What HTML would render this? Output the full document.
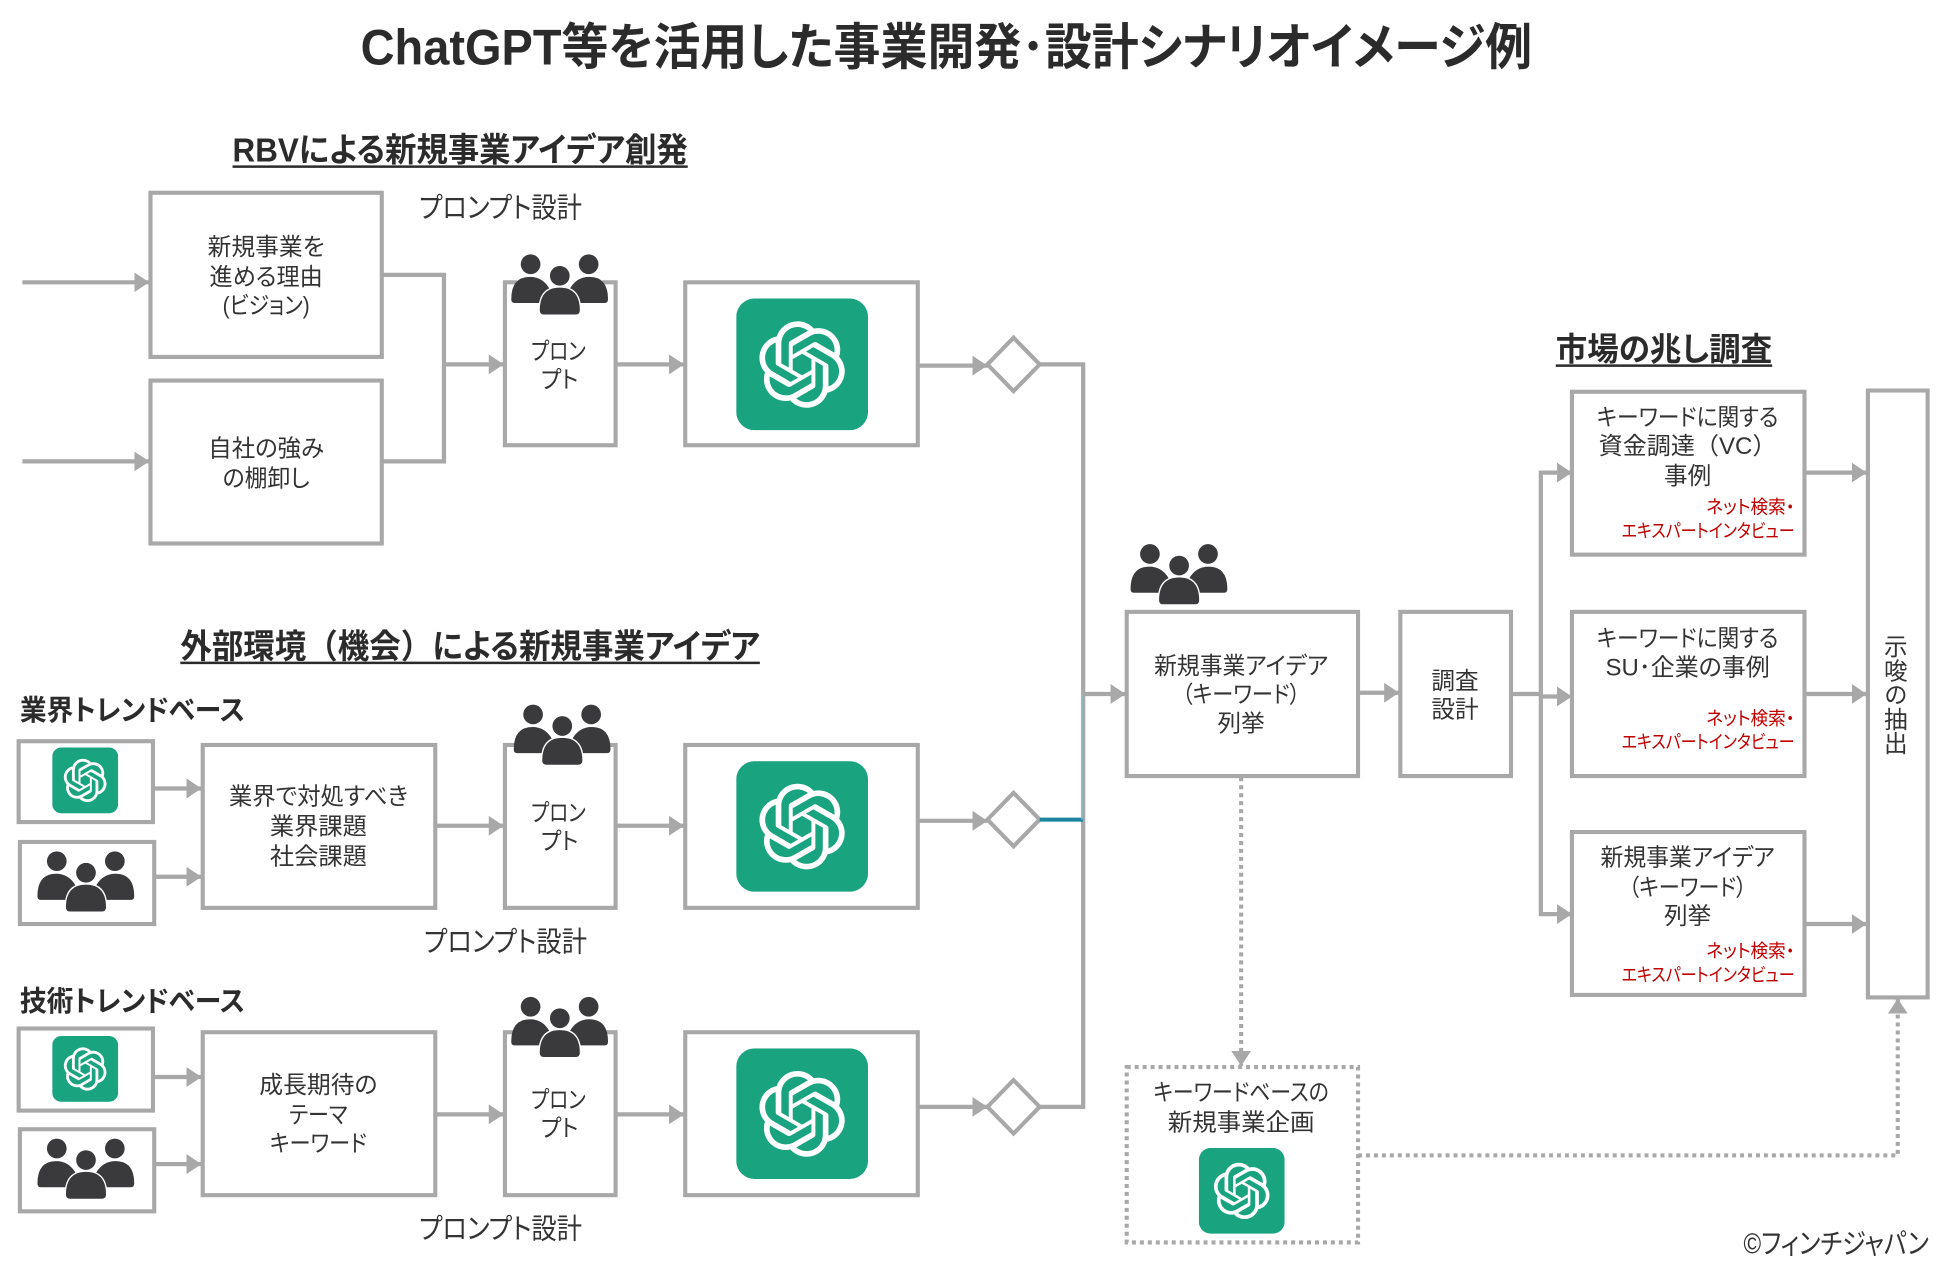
<!DOCTYPE html>
<html lang="ja"><head><meta charset="utf-8"><title>ChatGPT等を活用した事業開発・設計シナリオイメージ例</title>
<style>
html,body{margin:0;padding:0;background:#fff}
svg{display:block}
text{font-family:"Liberation Sans","Noto Sans CJK JP",sans-serif;fill:#333;font-size:19px;font-feature-settings:"palt"}
.c{text-anchor:middle}
.b{font-weight:700;fill:#2b2b2b}
.r{fill:#c00000;font-size:15px;text-anchor:end}
.box{fill:#fff;stroke:#a8a8a8;stroke-width:3.3}
.ln{fill:none;stroke:#a8a8a8;stroke-width:3.4}
.ar{fill:none;stroke:#a8a8a8;stroke-width:3.4;marker-end:url(#a)}
.dot{fill:none;stroke:#a8a8a8;stroke-width:3.3;stroke-dasharray:3.2 3.2}
.ul{stroke:#2b2b2b;stroke-width:2}
.fw{font-feature-settings:normal}
</style></head><body>
<svg xmlns="http://www.w3.org/2000/svg" width="1950" height="1276" viewBox="0 0 1568 1026" preserveAspectRatio="none">
<defs>
<marker id="a" markerUnits="userSpaceOnUse" markerWidth="13" markerHeight="16" refX="12" refY="8" orient="auto"><path d="M0 0L12 8L0 16Z" fill="#a8a8a8"/></marker>
<symbol id="logo" viewBox="0 0 100 100" preserveAspectRatio="none">
<rect width="100" height="100" rx="14" fill="#19a37f"/>
<g transform="translate(16.5 16.5) scale(1.64)"><path fill="#fff" d="M37.5324 16.8707C37.9808 15.5241 38.1363 14.0974 37.9886 12.6859C37.8409 11.2744 37.3934 9.91076 36.676 8.68622C35.6126 6.83404 33.9882 5.3676 32.0373 4.4985C30.0864 3.62941 27.9098 3.40259 25.8215 3.85078C24.8796 2.7893 23.7219 1.94125 22.4257 1.36341C21.1295 0.785575 19.7249 0.491269 18.3058 0.500197C16.1708 0.495044 14.0893 1.16803 12.3614 2.42214C10.6335 3.67624 9.34853 5.44666 8.6917 7.47815C7.30085 7.76286 5.98686 8.3414 4.8377 9.17505C3.68854 10.0087 2.73073 11.0782 2.02839 12.312C0.956464 14.1591 0.498905 16.2988 0.721698 18.4228C0.944492 20.5467 1.83612 22.5449 3.268 24.1293C2.81966 25.4759 2.66413 26.9026 2.81182 28.3141C2.95951 29.7256 3.40701 31.0892 4.12437 32.3138C5.18791 34.1659 6.8123 35.6322 8.76321 36.5013C10.7141 37.3704 12.8907 37.5973 14.9789 37.1492C15.9208 38.2107 17.0786 39.0587 18.3747 39.6366C19.6709 40.2144 21.0755 40.5087 22.4946 40.4998C24.6307 40.5054 26.7133 39.8321 28.4418 38.5772C30.1704 37.3223 31.4556 35.5506 32.1119 33.5179C33.5027 33.2332 34.8167 32.6547 35.9659 31.821C37.115 30.9874 38.0728 29.9178 38.7752 28.684C39.8458 26.8371 40.3023 24.6979 40.0789 22.5748C39.8556 20.4517 38.9639 18.4544 37.5324 16.8707ZM22.4978 37.8849C20.7443 37.8874 19.0459 37.2733 17.6994 36.1501C17.7601 36.117 17.8666 36.0586 17.936 36.0161L25.9004 31.4156C26.1003 31.3019 26.2663 31.137 26.3813 30.9378C26.4964 30.7386 26.5563 30.5124 26.5549 30.2825V19.0542L29.9213 20.998C29.9389 21.0068 29.9541 21.0198 29.9656 21.0359C29.977 21.052 29.9842 21.0707 29.9867 21.0902V30.3889C29.9842 32.375 29.1946 34.2791 27.7909 35.6841C26.3872 37.0892 24.4838 37.8806 22.4978 37.8849ZM6.39227 31.0064C5.51397 29.4888 5.19742 27.7107 5.49804 25.9832C5.55718 26.0187 5.66048 26.0818 5.73461 26.1244L13.699 30.7248C13.8975 30.8408 14.1233 30.902 14.3532 30.902C14.583 30.902 14.8088 30.8408 15.0073 30.7248L24.731 25.1103V28.9979C24.7321 29.0177 24.7283 29.0376 24.7199 29.0556C24.7115 29.0736 24.6988 29.0893 24.6829 29.1012L16.6317 33.7497C14.9096 34.7416 12.8643 35.0097 10.9447 34.4954C9.02506 33.9811 7.38785 32.7263 6.39227 31.0064ZM4.29707 13.6194C5.17156 12.0998 6.55279 10.9364 8.19885 10.3327C8.19885 10.4013 8.19491 10.5228 8.19491 10.6071V19.808C8.19351 20.0378 8.25334 20.2638 8.36823 20.4629C8.48312 20.6619 8.64893 20.8267 8.84863 20.9404L18.5723 26.5542L15.206 28.4979C15.1894 28.5089 15.1703 28.5155 15.1505 28.5173C15.1307 28.5191 15.1107 28.516 15.0924 28.5082L7.04046 23.8557C5.32135 22.8601 4.06716 21.2235 3.55289 19.3046C3.03862 17.3858 3.30624 15.3413 4.29707 13.6194ZM31.955 20.0556L22.2312 14.4411L25.5976 12.4981C25.6142 12.4872 25.6333 12.4805 25.6531 12.4787C25.6729 12.4769 25.6928 12.4801 25.7111 12.4879L33.7631 17.1364C34.9967 17.849 36.0017 18.8982 36.6606 20.1613C37.3194 21.4244 37.6047 22.849 37.4832 24.2684C37.3617 25.6878 36.8382 27.0432 35.9743 28.1759C35.1103 29.3086 33.9415 30.1717 32.6047 30.6641C32.6047 30.5947 32.6047 30.4733 32.6047 30.3889V21.188C32.6066 20.9586 32.5474 20.7328 32.4332 20.5338C32.319 20.3348 32.154 20.1698 31.955 20.0556ZM35.3055 15.0128C35.2464 14.9765 35.1431 14.9142 35.069 14.8717L27.1045 10.2712C26.906 10.1554 26.6803 10.0943 26.4504 10.0943C26.2206 10.0943 25.9948 10.1554 25.7963 10.2712L16.0726 15.8858V11.9982C16.0715 11.9783 16.0753 11.9585 16.0837 11.9405C16.0921 11.9225 16.1048 11.9068 16.1207 11.8949L24.1719 7.25025C25.4053 6.53903 26.8158 6.19376 28.2383 6.25482C29.6608 6.31589 31.0364 6.78077 32.2044 7.59508C33.3723 8.40939 34.2842 9.53945 34.8334 10.8531C35.3826 12.1667 35.5464 13.6095 35.3055 15.0128ZM14.2424 21.9419L10.8752 19.9981C10.8576 19.9893 10.8423 19.9763 10.8309 19.9602C10.8195 19.9441 10.8122 19.9254 10.8098 19.9058V10.6071C10.8107 9.18295 11.2173 7.78848 11.9819 6.58696C12.7466 5.38544 13.8377 4.42659 15.1275 3.82264C16.4173 3.21869 17.8524 2.99464 19.2649 3.1767C20.6775 3.35876 22.0089 3.93941 23.1034 4.85067C23.0427 4.88379 22.937 4.94215 22.8668 4.98473L14.9024 9.58517C14.7025 9.69878 14.5366 9.86356 14.4215 10.0626C14.3065 10.2616 14.2466 10.4877 14.2479 10.7175L14.2424 21.9419ZM16.071 17.9991L20.4018 15.4978L24.7325 17.9975V22.9985L20.4018 25.4983L16.071 22.9985V17.9991Z"/></g>
</symbol>
<symbol id="ppl" viewBox="-4 -4 293 187">
<g fill="#3a3a3c">
<circle cx="57" cy="29" r="29"/><circle cx="228" cy="29" r="29"/>
<path d="M0 132Q0 66 55 66Q92 66 112 100L112 143L10 143Q0 143 0 132Z"/>
<path d="M285 132Q285 66 230 66Q193 66 173 100L173 143L275 143Q285 143 285 132Z"/>
<circle cx="143" cy="63" r="33" fill="#fff"/><circle cx="143" cy="63" r="29"/>
<path d="M84 165Q84 98 143 98Q202 98 202 165Q202 177 190 177L96 177Q84 177 84 165Z" stroke="#fff" stroke-width="8" paint-order="stroke"/>
</g>
</symbol>
</defs>

<text x="761" y="52" class="c b" style="font-size:40px" textLength="942" lengthAdjust="spacingAndGlyphs">ChatGPT等を活用した事業開発･設計シナリオイメージ例</text>

<text x="370" y="130" class="c b" style="font-size:27px" textLength="366" lengthAdjust="spacingAndGlyphs">RBVによる新規事業アイデア創発</text>
<line class="ul" x1="187" y1="134" x2="553" y2="134"/>
<text x="402.500" y="175" class="c" style="font-size:23px" textLength="131" lengthAdjust="spacingAndGlyphs">プロンプト設計</text>

<!-- row 1 -->
<path class="ar" d="M18 227H120"/>
<path class="ar" d="M18 371H120"/>
<rect class="box" x="121" y="155" width="186" height="132"/>
<rect class="box" x="121" y="306" width="186" height="131"/>
<text x="214" y="205" class="c" textLength="94" lengthAdjust="spacingAndGlyphs">新規事業を</text><text x="214" y="229" class="c" textLength="91" lengthAdjust="spacingAndGlyphs">進める理由</text><text x="214" y="252" class="c" textLength="70" lengthAdjust="spacingAndGlyphs">(ビジョン)</text>
<text x="214" y="367" class="c" textLength="93" lengthAdjust="spacingAndGlyphs">自社の強み</text><text x="214" y="391" class="c" textLength="70" lengthAdjust="spacingAndGlyphs">の棚卸し</text>
<path class="ln" d="M307 221H357V371H307"/>
<path class="ar" d="M357 293H405"/>
<rect class="box" x="406" y="227" width="89" height="131"/>
<rect x="416" y="220" width="68" height="30" fill="#fff"/>
<use href="#ppl" x="410" y="203" width="80" height="52"/>
<text x="449" y="289" class="c" textLength="44" lengthAdjust="spacingAndGlyphs">プロン</text><text x="450" y="312" class="c" textLength="30" lengthAdjust="spacingAndGlyphs">プト</text>
<path class="ar" d="M495 293H550"/>
<rect class="box" x="551" y="227" width="187" height="131"/>
<use href="#logo" x="592" y="240" width="106" height="106"/>
<path class="ar" d="M738 294H794"/>
<path class="box" d="M815 271.500L836 293L815 314.500L794 293Z"/>
<path class="ln" d="M836 293H871V890H836"/>

<!-- row 2 -->
<text x="378" y="529" class="c b" style="font-size:27px" textLength="466" lengthAdjust="spacingAndGlyphs">外部環境<tspan class="fw">（機会）</tspan>による新規事業アイデア</text>
<line class="ul" x1="145" y1="533" x2="611" y2="533"/>
<text x="16" y="579" class="b" style="font-size:23px" textLength="181" lengthAdjust="spacingAndGlyphs">業界トレンドベース</text>
<rect class="box" x="15" y="596" width="108" height="65"/>
<use href="#logo" x="42" y="601" width="53" height="53"/>
<rect class="box" x="16" y="677" width="108" height="66"/>
<use href="#ppl" x="29" y="683" width="80" height="52"/>
<path class="ar" d="M123 634H162"/>
<path class="ar" d="M124 705H162"/>
<rect class="box" x="163" y="599" width="187" height="131"/>
<text x="256" y="647" class="c" textLength="144" lengthAdjust="spacingAndGlyphs">業界で対処すべき</text><text x="256" y="671" class="c" textLength="78" lengthAdjust="spacingAndGlyphs">業界課題</text><text x="256" y="695" class="c" textLength="78" lengthAdjust="spacingAndGlyphs">社会課題</text>
<path class="ar" d="M350 664H405"/>
<rect class="box" x="406" y="599" width="89" height="131"/>
<rect x="416" y="590" width="68" height="30" fill="#fff"/>
<use href="#ppl" x="412" y="565" width="80" height="52"/>
<text x="449" y="660" class="c" textLength="44" lengthAdjust="spacingAndGlyphs">プロン</text><text x="450" y="683" class="c" textLength="30" lengthAdjust="spacingAndGlyphs">プト</text>
<path class="ar" d="M495 664H550"/>
<rect class="box" x="551" y="599" width="187" height="131"/>
<use href="#logo" x="592" y="612" width="106" height="105"/>
<path class="ar" d="M738 660H794"/>
<path class="box" d="M815 637.500L836 659L815 680.500L794 659Z"/>
<line x1="836" y1="659" x2="871" y2="659" stroke="#1b84a0" stroke-width="3.200"/>
<line x1="870" y1="558" x2="870" y2="659" stroke="#8fbcc6" stroke-width="1.200"/>
<text x="406.500" y="765" class="c" style="font-size:23px" textLength="131" lengthAdjust="spacingAndGlyphs">プロンプト設計</text>

<!-- row 3 -->
<text x="16" y="813" class="b" style="font-size:23px" textLength="181" lengthAdjust="spacingAndGlyphs">技術トレンドベース</text>
<rect class="box" x="15" y="827" width="108" height="66"/>
<use href="#logo" x="42" y="833" width="53" height="53"/>
<rect class="box" x="16" y="908" width="108" height="66"/>
<use href="#ppl" x="29" y="914" width="80" height="52"/>
<path class="ar" d="M123 866H162"/>
<path class="ar" d="M124 936H162"/>
<rect class="box" x="163" y="830" width="187" height="131"/>
<text x="256" y="879" class="c" textLength="95" lengthAdjust="spacingAndGlyphs">成長期待の</text><text x="256" y="903" class="c" textLength="47" lengthAdjust="spacingAndGlyphs">テーマ</text><text x="256" y="926" class="c" textLength="78" lengthAdjust="spacingAndGlyphs">キーワード</text>
<path class="ar" d="M350 896H405"/>
<rect class="box" x="406" y="830" width="89" height="131"/>
<rect x="416" y="822" width="68" height="30" fill="#fff"/>
<use href="#ppl" x="410" y="800" width="80" height="52"/>
<text x="449" y="891" class="c" textLength="44" lengthAdjust="spacingAndGlyphs">プロン</text><text x="450" y="914" class="c" textLength="30" lengthAdjust="spacingAndGlyphs">プト</text>
<path class="ar" d="M495 896H550"/>
<rect class="box" x="551" y="830" width="187" height="131"/>
<use href="#logo" x="592" y="843" width="106" height="105"/>
<path class="ar" d="M738 890H794"/>
<path class="box" d="M815 868.500L836 890L815 911.500L794 890Z"/>
<text x="402.500" y="996" class="c" style="font-size:23px" textLength="131" lengthAdjust="spacingAndGlyphs">プロンプト設計</text>

<!-- center -->
<path class="ar" d="M871 558H905"/>
<use href="#ppl" x="908" y="436" width="80" height="52"/>
<rect class="box" x="906" y="492" width="186" height="132"/>
<text x="998" y="542" class="c" textLength="140" lengthAdjust="spacingAndGlyphs">新規事業アイデア</text><text x="998" y="565" class="c" textLength="95" lengthAdjust="spacingAndGlyphs">（キーワード）</text><text x="998" y="588" class="c">列挙</text>
<path class="ar" d="M1092 557H1125"/>
<rect class="box" x="1126" y="492" width="89" height="132"/>
<text x="1170" y="554" class="c">調査</text><text x="1170" y="577" class="c">設計</text>
<path class="ln" d="M1215 558H1239"/>
<path class="ln" d="M1263 380H1239V735H1263"/>
<path d="M1252 372L1264 380L1252 388ZM1252 727L1264 735L1252 743ZM1252 552L1264 560L1252 568Z" fill="#a8a8a8"/>
<path class="ln" d="M1239 560H1254"/>

<!-- right -->
<text x="1338" y="290" class="c b" style="font-size:26px" textLength="174" lengthAdjust="spacingAndGlyphs">市場の兆し調査</text>
<line class="ul" x1="1251" y1="294" x2="1425" y2="294"/>
<rect class="box" x="1264" y="315" width="187" height="131"/>
<text x="1357" y="342" class="c" textLength="146" lengthAdjust="spacingAndGlyphs">キーワードに関する</text><text x="1357" y="365" class="c" textLength="143" lengthAdjust="spacingAndGlyphs">資金調達<tspan class="fw">（</tspan>VC<tspan class="fw">）</tspan></text><text x="1357" y="389" class="c">事例</text>
<text x="1443" y="413" class="r" textLength="71" lengthAdjust="spacingAndGlyphs">ネット検索・</text><text x="1443" y="432" class="r" textLength="139" lengthAdjust="spacingAndGlyphs">エキスパートインタビュー</text>
<rect class="box" x="1264" y="492" width="187" height="132"/>
<text x="1357" y="520" class="c" textLength="146" lengthAdjust="spacingAndGlyphs">キーワードに関する</text><text x="1357" y="543" class="c" textLength="132" lengthAdjust="spacingAndGlyphs">SU･企業の事例</text>
<text x="1443" y="583" class="r" textLength="71" lengthAdjust="spacingAndGlyphs">ネット検索・</text><text x="1443" y="602" class="r" textLength="139" lengthAdjust="spacingAndGlyphs">エキスパートインタビュー</text>
<rect class="box" x="1264" y="669" width="187" height="131"/>
<text x="1357" y="696" class="c" textLength="140" lengthAdjust="spacingAndGlyphs">新規事業アイデア</text><text x="1357" y="720" class="c" textLength="95" lengthAdjust="spacingAndGlyphs">（キーワード）</text><text x="1357" y="743" class="c">列挙</text>
<text x="1443" y="770" class="r" textLength="71" lengthAdjust="spacingAndGlyphs">ネット検索・</text><text x="1443" y="789" class="r" textLength="139" lengthAdjust="spacingAndGlyphs">エキスパートインタビュー</text>
<path class="ar" d="M1451 380H1501"/>
<path class="ar" d="M1451 558H1501"/>
<path class="ar" d="M1451 743H1501"/>
<rect class="box" x="1502" y="314" width="48" height="488"/>
<text x="1522" y="510" style="writing-mode:vertical-rl;font-size:19px;letter-spacing:.5px;font-feature-settings:normal">示唆の抽出</text>

<!-- dotted -->
<path class="dot" d="M998 625V857" marker-end="url(#a)"/>
<rect class="dot" x="906" y="858" width="186" height="141"/>
<text x="998" y="885" class="c" textLength="141" lengthAdjust="spacingAndGlyphs">キーワードベースの</text><text x="998" y="909" class="c" textLength="118" lengthAdjust="spacingAndGlyphs">新規事業企画</text>
<use href="#logo" x="964" y="923" width="69" height="69"/>
<path class="dot" d="M1092 929H1526V803" marker-end="url(#a)"/>
<text x="1551" y="1008" style="font-size:23px;text-anchor:end" textLength="149" lengthAdjust="spacingAndGlyphs">©フィンチジャパン</text>
</svg>
</body></html>
